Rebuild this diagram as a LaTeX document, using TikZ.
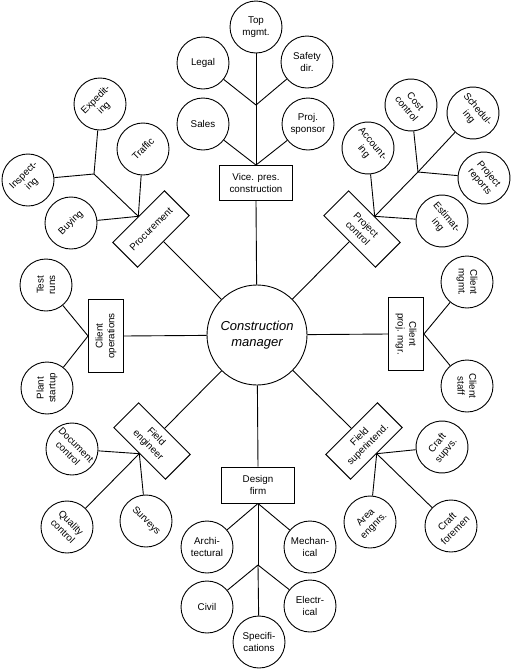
\documentclass[tikz,border=0pt]{standalone}
\usepackage{fontspec}
\setmainfont{Liberation Sans}
\newcommand\fs{\fontsize{9.8}{11.6}\selectfont}
\tikzset{
  bub/.style={circle, draw, line width=0.9pt, minimum size=52pt, inner sep=0pt, align=center, font=\fs},
  orgbox/.style={rectangle, draw, line width=0.9pt, minimum width=73pt, minimum height=35pt, inner sep=0pt, align=center, font=\fs},
  conn/.style={line width=0.9pt}
}
\begin{document}
\begin{tikzpicture}[x=1pt,y=1pt]
\useasboundingbox (0,0) rectangle (512,-670);
% center
\node[bub, minimum size=100pt, font=\fontsize{13}{16}\selectfont\itshape] (cm) at (257,-335) {Construction\\manager};
% boxes
\node[orgbox] (vp) at (256,-183) {Vice. pres.\\construction};
\node[orgbox, rotate=-45] (pc) at (362,-229) {Project\\control};
\node[orgbox, rotate=45] (pr) at (151,-229) {Procurement};
\node[orgbox, rotate=90] (co) at (106,-336) {Client\\operations};
\node[orgbox, rotate=-90] (cp) at (406,-334) {Client\\proj. mgr.};
\node[orgbox, rotate=-45] (fe) at (152,-441) {Field\\engineer};
\node[orgbox, rotate=45] (fs) at (364,-441) {Field\\superintend.};
\node[orgbox, minimum height=36pt] (df) at (258,-485) {Design\\firm};
% spokes
\draw[conn] (cm) -- (vp.south);
\draw[conn] (cm) -- (pc.south);
\draw[conn] (cm) -- (pr.south);
\draw[conn] (cm) -- (co.south);
\draw[conn] (cm) -- (cp.south);
\draw[conn] (cm) -- (fe.north);
\draw[conn] (cm) -- (fs.north);
\draw[conn] (cm) -- (df.north);
% vice pres group
\node[bub] (top) at (256,-27) {Top\\mgmt.};
\node[bub] (legal) at (203,-63) {Legal};
\node[bub] (safety) at (307,-62) {Safety\\dir.};
\node[bub] (sales) at (203,-124) {Sales};
\node[bub] (spon) at (308,-124) {Proj.\\sponsor};
\coordinate (vj) at (256,-105);
\draw[conn] (vp.north) -- (top);
\draw[conn] (vj) -- (legal);
\draw[conn] (vj) -- (safety);
\draw[conn] (vp.north) -- (sales);
\draw[conn] (vp.north) -- (spon);
% project control group
\node[bub, rotate=-50] (acct) at (368,-148) {Account-\\ing};
\node[bub, rotate=-50] (cost) at (411,-105) {Cost\\control};
\node[bub, rotate=-50] (sched) at (473,-113) {Schedul-\\ing};
\node[bub, rotate=-50] (rep) at (484,-178) {Project\\reports};
\node[bub, rotate=-50] (estim) at (442,-221) {Estimat-\\ing};
\coordinate (pj) at (418,-172);
\draw[conn] (pc.north) -- (acct);
\draw[conn] (pc.north) -- (pj);
\draw[conn] (pc.north) -- (estim);
\draw[conn] (pj) -- (cost);
\draw[conn] (pj) -- (sched);
\draw[conn] (pj) -- (rep);
% procurement group
\node[bub, rotate=45] (exped) at (100,-104) {Expedit-\\ing};
\node[bub, rotate=45] (traffic) at (143,-149) {Traffic};
\node[bub, rotate=45] (insp) at (28,-180) {Inspect-\\ing};
\node[bub, rotate=45] (buying) at (71,-223) {Buying};
\coordinate (qj) at (94,-174);
\draw[conn] (pr.north) -- (qj);
\draw[conn] (qj) -- (exped);
\draw[conn] (qj) -- (insp);
\draw[conn] (pr.north) -- (traffic);
\draw[conn] (pr.north) -- (buying);
% client operations group
\node[bub, rotate=90] (test) at (46,-285) {Test\\runs};
\node[bub, rotate=90] (plant) at (47,-388) {Plant\\startup};
\draw[conn] (co.north) -- (test);
\draw[conn] (co.north) -- (plant);
% client proj mgr group
\node[bub, rotate=-90] (cmg) at (467,-282) {Client\\mgmt.};
\node[bub, rotate=-90] (cst) at (467,-386) {Client\\staff};
\draw[conn] (cp.north) -- (cmg);
\draw[conn] (cp.north) -- (cst);
% field engineer group
\node[bub, rotate=-45] (doc) at (72,-449) {Document\\control};
\node[bub, rotate=-45] (qual) at (67,-527) {Quality\\control};
\node[bub, rotate=-45] (surv) at (146,-521) {Surveys};
\draw[conn] (fe.south) -- (doc);
\draw[conn] (fe.south) -- (qual);
\draw[conn] (fe.south) -- (surv);
% field superintendent group
\node[bub, rotate=50] (supvs) at (442,-447) {Craft\\supvs.};
\node[bub, rotate=45] (area) at (370,-522) {Area\\engnrs.};
\node[bub, rotate=45] (fore) at (451,-526) {Craft\\foremen};
\draw[conn] (fs.south) -- (supvs);
\draw[conn] (fs.south) -- (area);
\draw[conn] (fs.south) -- (fore);
% design firm group
\node[bub] (arch) at (207,-547) {Archi-\\tectural};
\node[bub] (mech) at (310,-547) {Mechan-\\ical};
\node[bub] (civil) at (207,-607) {Civil};
\node[bub] (elec) at (310,-606) {Electr-\\ical};
\node[bub] (spec) at (259,-642) {Specifi-\\cations};
\coordinate (dj) at (258,-565);
\draw[conn] (df.south) -- (dj);
\draw[conn] (df.south) -- (arch);
\draw[conn] (df.south) -- (mech);
\draw[conn] (dj) -- (civil);
\draw[conn] (dj) -- (elec);
\draw[conn] (dj) -- (spec);
\end{tikzpicture}
\end{document}
